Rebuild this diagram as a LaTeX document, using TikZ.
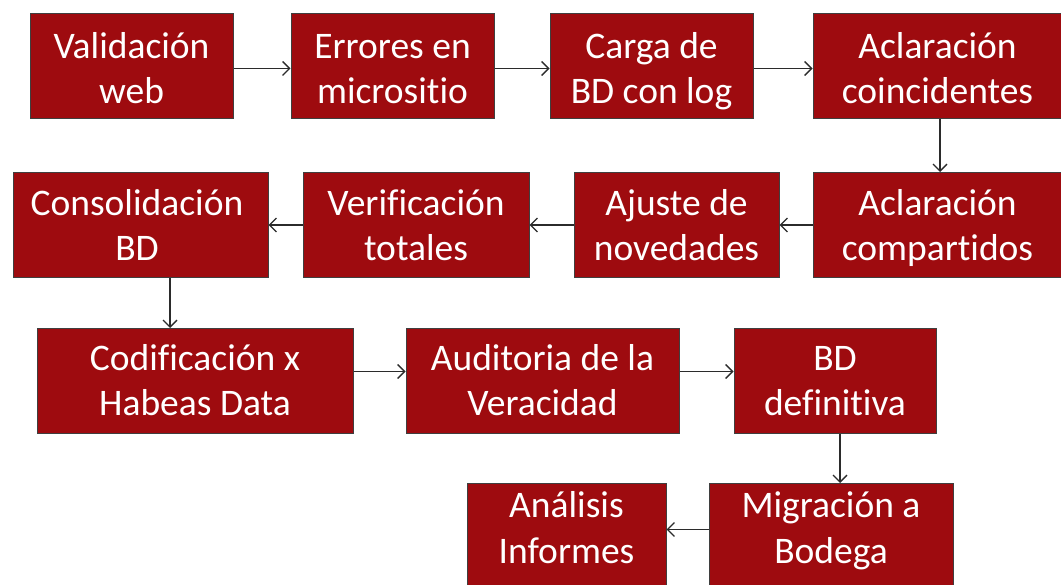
\documentclass[tikz,border=0pt]{standalone}
\usepackage{fontspec}
\setmainfont{Carlito}[Ligatures=NoCommon]
\usetikzlibrary{arrows.meta}
\definecolor{boxred}{HTML}{9E0B0F}
\definecolor{edgegray}{HTML}{3F3F3F}
\definecolor{arrgray}{HTML}{2B2B2B}
\newcommand\twolines[4]{\rule{0pt}{#1pt}#3\\#4\rule[-#2pt]{0pt}{#2pt}}
\tikzset{
  stepbox/.style={draw=edgegray, line width=1pt, fill=boxred, text=white,
    align=center, inner sep=0pt, font=\fontsize{37.5}{45.5}\selectfont},
  arr/.style={draw=arrgray, line width=1.3pt, -{Straight Barb[length=7pt,width=14pt,line width=1.3pt]}}
}
\begin{document}
\begin{tikzpicture}[x=1pt,y=-1pt]
\useasboundingbox[fill=white] (0,0) rectangle (1061,585);
\node[stepbox, minimum width=203pt, anchor=north] (a) at (131.5,13) {\twolines{45}{14.5}{Validación}{web}};
\node[stepbox, minimum width=203pt, anchor=north] (b) at (392.5,13) {\twolines{45}{14.5}{Errores en}{micrositio}};
\node[stepbox, minimum width=203pt, anchor=north] (c) at (651.5,13) {\twolines{45}{14.5}{Carga de}{BD con log}};
\node[stepbox, minimum width=249pt, anchor=north] (d) at (937.5,13) {\twolines{45}{14.5}{Aclaración}{coincidentes}};
\node[stepbox, minimum width=249pt, anchor=north] (e) at (937.5,172) {\twolines{43}{16.5}{Aclaración}{compartidos}};
\node[stepbox, minimum width=205pt, anchor=north] (f) at (676.5,172) {\twolines{43}{16.5}{Ajuste de}{novedades}};
\node[stepbox, minimum width=226pt, anchor=north] (g) at (416,172) {\twolines{43}{16.5}{Verificación}{totales}};
\node[stepbox, minimum width=255pt, anchor=north] (h) at (140.5,172) {\twolines{43}{16.5}{Consolidación\hspace*{7pt}}{BD\hspace*{7pt}}};
\node[stepbox, minimum width=316pt, anchor=north] (i) at (195,328) {\twolines{42}{17.5}{Codificación x}{Habeas Data}};
\node[stepbox, minimum width=273pt, anchor=north] (j) at (542.5,328) {\twolines{42}{17.5}{Auditoria de la}{Veracidad}};
\node[stepbox, minimum width=202pt, anchor=north] (k) at (835,328) {\twolines{42}{17.5}{BD}{definitiva}};
\node[stepbox, minimum width=244pt, anchor=north] (l) at (831,483) {\twolines{34}{24.5}{Migración a}{Bodega}};
\node[stepbox, minimum width=199pt, anchor=north] (m) at (566.5,483) {\twolines{34}{24.5}{Análisis}{Informes}};
\draw[arr] ([yshift=-2.5pt]a.east) -- ([yshift=-2.5pt]b.west);
\draw[arr] ([yshift=-2.5pt]b.east) -- ([yshift=-2.5pt]c.west);
\draw[arr] ([yshift=-2.5pt]c.east) -- ([yshift=-2.5pt]d.west);
\draw[arr] ([xshift=2.5pt]d.south) -- ([xshift=2.5pt]d.south |- e.north);
\draw[arr] (e.west) -- (f.east);
\draw[arr] (f.west) -- (g.east);
\draw[arr] (g.west) -- (h.east);
\draw[arr] ([xshift=29.5pt]h.south) -- ([xshift=29.5pt]h.south |- i.north);
\draw[arr] ([yshift=9.5pt]i.east) -- ([yshift=9.5pt]j.west);
\draw[arr] ([yshift=9.5pt]j.east) -- ([yshift=9.5pt]k.west);
\draw[arr] ([xshift=5pt]k.south) -- ([xshift=5pt]k.south |- l.north);
\draw[arr] ([yshift=6pt]l.west) -- ([yshift=6pt]m.east);
\end{tikzpicture}
\end{document}
